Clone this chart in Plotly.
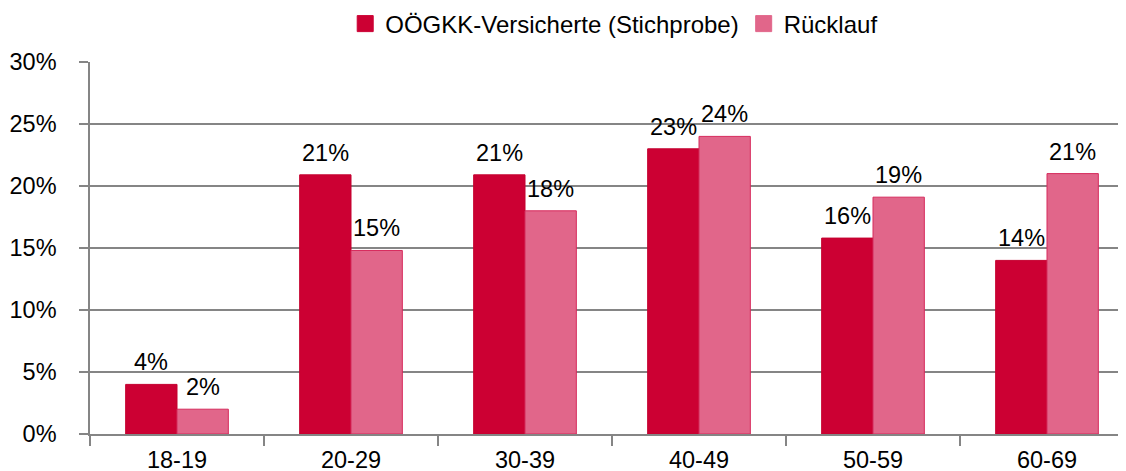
import plotly.graph_objects as go

categories = ["18-19", "20-29", "30-39", "40-49", "50-59", "60-69"]
versicherte = [4.0, 20.9, 20.9, 23.0, 15.8, 14.0]
ruecklauf = [2.0, 14.8, 18.0, 24.0, 19.1, 21.0]
versicherte_labels = ["4%", "21%", "21%", "23%", "16%", "14%"]
ruecklauf_labels = ["2%", "15%", "18%", "24%", "19%", "21%"]
y_ticks = [0, 5, 10, 15, 20, 25, 30]

FONT = "Liberation Sans, Arial, sans-serif"
GRID = "#858585"
FS = 23.5
DARK = "#CC0033"
LIGHT = "#E1668A"

W, H = 1126, 471
ML, MR, MT, MB = 82, 8, 54, 45
X_RANGE = [-0.5, 5.454]
BARGAP = 0.41

fig = go.Figure()
fig.add_trace(go.Bar(
    name="OÖGKK-Versicherte (Stichprobe)", x=categories, y=versicherte,
    marker=dict(color=DARK, line=dict(color="#C4002F", width=1)),
    showlegend=False,
))
fig.add_trace(go.Bar(
    name="Rücklauf", x=categories, y=ruecklauf,
    marker=dict(color=LIGHT, line=dict(color="#D62A5C", width=1)),
    showlegend=False,
))
# legend entries with larger square swatches
for name, col in [("OÖGKK-Versicherte (Stichprobe)", DARK), ("Rücklauf", LIGHT)]:
    fig.add_trace(go.Scatter(
        name=name, x=[None], y=[None], mode="markers",
        marker=dict(symbol="square", size=16, color=col, line=dict(width=1, color=col)),
        showlegend=True,
    ))

# value labels above each bar
px_per_cat = (W - ML - MR) / (X_RANGE[1] - X_RANGE[0])
half_bar = px_per_cat * (1 - BARGAP) / 2
for vals, labs, sign in [(versicherte, versicherte_labels, -1), (ruecklauf, ruecklauf_labels, 1)]:
    for c, v, t in zip(categories, vals, labs):
        fig.add_annotation(
            x=c, y=v, text=t, showarrow=False, xanchor="center", yanchor="bottom",
            xshift=sign * half_bar / 2 * 1.0, yshift=7,
            font=dict(size=FS, color="black", family=FONT),
        )

fig.update_layout(
    width=W, height=H,
    margin=dict(l=ML, r=MR, t=MT, b=MB, autoexpand=False),
    paper_bgcolor="white", plot_bgcolor="white",
    font=dict(family=FONT, size=FS, color="black"),
    barmode="group", bargap=BARGAP, bargroupgap=0,
    showlegend=True,
    legend=dict(orientation="h", x=0.506, xanchor="center",
                yref="container", y=0.966, yanchor="middle",
                font=dict(size=24), itemsizing="trace", traceorder="normal"),
)
fig.update_xaxes(
    type="category", range=X_RANGE, automargin=False,
    showline=True, linecolor=GRID, linewidth=1.5,
    ticks="outside", tickson="boundaries", ticklen=10, tickcolor=GRID, tickwidth=1.5,
    showgrid=False, tickfont=dict(size=FS, color="black"), ticklabelstandoff=4,
)
fig.update_yaxes(
    range=[0, 30], tickvals=y_ticks, ticktext=[f"{v}%" for v in y_ticks],
    automargin=False,
    showline=True, linecolor=GRID, linewidth=1.5,
    ticks="outside", ticklen=9, tickcolor=GRID, tickwidth=1.5,
    showgrid=True, gridcolor=GRID, gridwidth=1.5,
    zeroline=False, ticklabelstandoff=18,
    tickfont=dict(size=FS, color="black"),
)

fig.write_html("out.html")
